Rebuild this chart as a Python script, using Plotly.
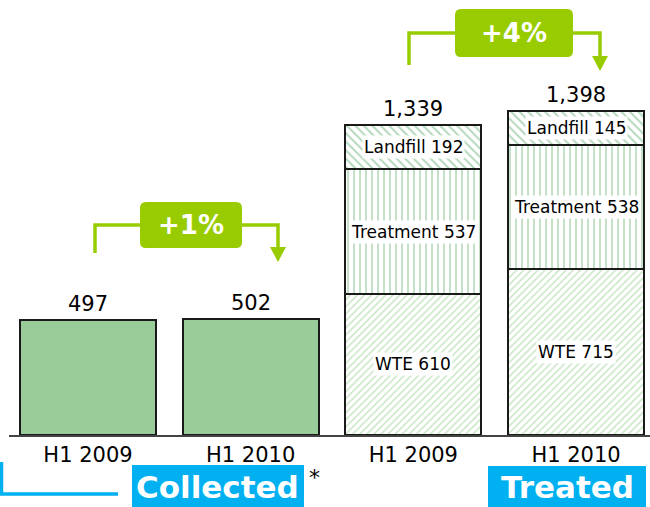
import plotly.graph_objects as go

# ---- data ----
categories = ["H1 2009", "H1 2010", "H1 2009", "H1 2010"]
collected = [497, 502]
wte = [610, 715]
treatment = [537, 538]
landfill = [192, 145]
treated_totals = [1339, 1398]
growth_labels = ["+1%", "+4%"]
group_labels = ["Collected", "Treated"]

W, H = 650, 507
ML, MR, MT, MB = 9, 0, 0, 72
PW, PH = W - ML - MR, H - MT - MB

def px(x):
    return (x - ML) / PW

def py(y):
    return (H - MB - y) / PH

xpos = [0, 1, 2, 3]
bw = 0.836
outline = dict(color="#1a1a1a", width=2)
font_main = "DejaVu Sans"

fig = go.Figure()
fig.add_bar(x=xpos[:2], y=collected, width=bw, marker=dict(color="#99cc99", line=outline),
            name="Collected")
fig.add_bar(x=xpos[2:], y=wte, width=bw,
            marker=dict(color="white", line=outline,
                        pattern=dict(shape="/", fgcolor="#94cc8e", bgcolor="white", size=5, solidity=0.3)),
            name="WTE")
fig.add_bar(x=xpos[2:], y=treatment, width=bw,
            marker=dict(color="white", line=outline,
                        pattern=dict(shape="|", fgcolor="#7dbd86", bgcolor="white", size=6, solidity=0.3)),
            name="Treatment")
fig.add_bar(x=xpos[2:], y=landfill, width=bw,
            marker=dict(color="white", line=outline,
                        pattern=dict(shape="\\", fgcolor="#6db27e", bgcolor="white", size=6, solidity=0.35)),
            name="Landfill")

ann = []
# value labels above bars
for i, v in enumerate(collected):
    ann.append(dict(x=xpos[i], y=v, text=f"{v:,}", showarrow=False, yanchor="bottom", yshift=2,
                    font=dict(family=font_main, size=21, color="black")))
for i, v in enumerate(treated_totals):
    ann.append(dict(x=xpos[2 + i], y=v, text=f"{v:,}", showarrow=False, yanchor="bottom", yshift=2,
                    font=dict(family=font_main, size=21, color="black")))
# segment labels
for i in range(2):
    segs = [("WTE", wte[i]), ("Treatment", treatment[i]), ("Landfill", landfill[i])]
    base = 0
    for name, v in segs:
        ann.append(dict(x=xpos[2 + i], y=base + v / 2, text=f"{name} {v}", showarrow=False,
                        bgcolor="white", borderpad=1,
                        font=dict(family=font_main, size=17, color="black")))
        base += v

shapes = []
green = "#99cc00"
blue = "#00b0f0"

def rounded(x0, y0, x1, y1, r):
    rx, ry = r / PW, r / PH
    X0, X1 = px(x0), px(x1)
    Y0, Y1 = py(y1), py(y0)  # Y0 bottom, Y1 top
    return (f"M {X0+rx},{Y0} L {X1-rx},{Y0} Q {X1},{Y0} {X1},{Y0+ry} L {X1},{Y1-ry} "
            f"Q {X1},{Y1} {X1-rx},{Y1} L {X0+rx},{Y1} Q {X0},{Y1} {X0},{Y1-ry} "
            f"L {X0},{Y0+ry} Q {X0},{Y0} {X0+rx},{Y0} Z")

def pline(pts):
    return "M " + " L ".join(f"{px(a)},{py(b)}" for a, b in pts)

def txt(x, y, text, size, color, bold=False):
    return dict(xref="paper", yref="paper", x=px(x), y=py(y), xanchor="center", yanchor="middle",
                text=f"<b>{text}</b>" if bold else text, showarrow=False,
                font=dict(family=font_main, size=size, color=color))

brackets = [
    dict(lx=95, ly=253, hy=225, bx0=140, bx1=242, by0=202, by1=248, rx=278, tip=262, label=growth_labels[0]),
    dict(lx=409, ly=65, hy=33, bx0=455, bx1=573, by0=9, by1=57, rx=600, tip=71, label=growth_labels[1]),
]
for b in brackets:
    shapes.append(dict(type="path", xref="paper", yref="paper",
                       path=pline([(b["lx"], b["ly"]), (b["lx"], b["hy"]), (b["bx0"], b["hy"])]),
                       line=dict(color=green, width=3.5), fillcolor="rgba(0,0,0,0)"))
    shapes.append(dict(type="path", xref="paper", yref="paper",
                       path=pline([(b["bx1"], b["hy"]), (b["rx"], b["hy"]), (b["rx"], b["tip"] - 14)]),
                       line=dict(color=green, width=3.5), fillcolor="rgba(0,0,0,0)"))
    shapes.append(dict(type="path", xref="paper", yref="paper",
                       path=pline([(b["rx"] - 8, b["tip"] - 15), (b["rx"] + 8, b["tip"] - 15), (b["rx"], b["tip"])]) + " Z",
                       line=dict(width=0), fillcolor=green))
    shapes.append(dict(type="path", xref="paper", yref="paper",
                       path=rounded(b["bx0"], b["by0"], b["bx1"], b["by1"], 6),
                       line=dict(width=0), fillcolor=green))
    ann.append(txt((b["bx0"] + b["bx1"]) / 2, (b["by0"] + b["by1"]) / 2, b["label"], 26, "white", bold=True))

# group label boxes
boxes = [(132, 304, 465, 507), (488, 646, 466, 507)]
for (x0, x1, y0, y1), lab in zip(boxes, group_labels):
    shapes.append(dict(type="rect", xref="paper", yref="paper", x0=px(x0), x1=px(x1), y0=py(y1), y1=py(y0),
                       line=dict(width=0), fillcolor=blue))
    ann.append(txt((x0 + x1) / 2, (y0 + y1) / 2 + 1, lab, 31, "white", bold=True))
# blue bracket line
shapes.append(dict(type="path", xref="paper", yref="paper",
                   path=pline([(1.5, 462), (1.5, 494), (118, 494)]),
                   line=dict(color=blue, width=3.5), fillcolor="rgba(0,0,0,0)"))
ann.append(txt(314, 477, "*", 22, "black"))

fig.update_layout(
    width=W, height=H, margin=dict(l=ML, r=MR, t=MT, b=MB),
    barmode="stack", showlegend=False,
    plot_bgcolor="white", paper_bgcolor="white",
    annotations=ann, shapes=shapes,
    xaxis=dict(range=[-0.4857, 3.4548], tickvals=xpos, ticktext=categories,
               tickfont=dict(family=font_main, size=21, color="black"),
               showline=True, linecolor="#444444", linewidth=2, ticks="", showgrid=False,
               zeroline=False, fixedrange=True),
    yaxis=dict(range=[0, 1879], visible=False, showgrid=False, zeroline=False, fixedrange=True),
)

fig.write_html("out.html", config={"displayModeBar": False},
               post_script="document.body.style.margin='0';document.body.style.overflow='hidden';")
